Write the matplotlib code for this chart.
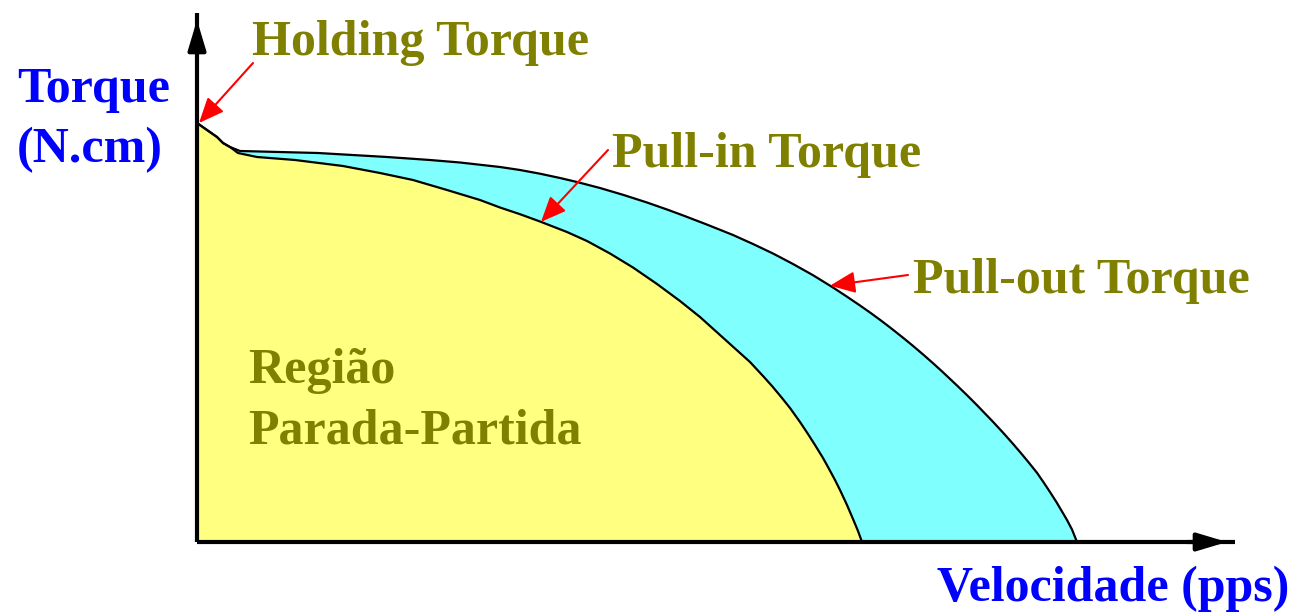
import numpy as np
import matplotlib
matplotlib.use("Agg")
import matplotlib.pyplot as plt

# ---- data (speed in arbitrary pps units, torque in N.cm) ----
pullout_speed = [0.0, 1.0, 2.0, 2.6, 3.3, 4.3, 12.1, 19.0, 23.3, 26.3, 30.3, 32.3, 34.3,
                 36.3, 38.0, 40.3, 42.6, 45.0, 47.0, 48.6, 51.0, 53.6, 55.6, 57.6, 59.6,
                 61.6, 63.6, 65.0, 66.3, 67.3, 68.3, 69.3, 70.6, 71.6, 72.6, 73.6, 74.6,
                 76.0, 77.0, 78.0, 79.6, 80.6, 81.5, 82.3, 83.1, 84.0, 84.6, 85.3, 86.0,
                 87.0, 87.5, 88.0]
pullout_torque = [41.9, 41.2, 40.5, 39.9, 39.5, 39.1, 38.9, 38.5, 38.2, 37.95, 37.5, 37.2, 36.83,
                  36.4, 36.0, 35.4, 34.72, 33.95, 33.25, 32.66, 31.74, 30.7, 29.8, 28.85, 27.8,
                  26.68, 25.45, 24.53, 23.65, 22.95, 22.22, 21.46, 20.43, 19.61, 18.76, 17.88, 16.97,
                  15.65, 14.68, 13.68, 12.02, 10.94, 9.93, 9.0, 8.04, 6.92, 6.05, 5.0, 3.9,
                  2.2, 1.25, 0.0]
pullin_speed = [0.0, 1.0, 2.0, 2.6, 3.3, 4.1, 6.0, 9.8, 14.6, 18.3, 21.6, 25.0, 28.3, 30.3,
                32.3, 34.3, 37.0, 39.0, 41.3, 43.6, 46.0, 48.3, 50.3, 52.3, 54.3, 55.3,
                56.6, 57.5, 58.5, 59.3, 60.3, 61.1, 61.8, 62.6, 63.1, 63.8, 64.3, 65.0,
                65.6, 66.1, 66.5]
pullin_torque = [41.9, 41.2, 40.5, 39.9, 39.5, 38.9, 38.5, 38.2, 37.6, 36.9, 36.2, 35.2, 34.2,
                 33.45, 32.78, 32.05, 31.0, 30.1, 28.85, 27.45, 25.8, 24.1, 22.5, 20.7, 18.9,
                 18.0, 16.6, 15.6, 14.4, 13.4, 12.0, 10.8, 9.7, 8.4, 7.5, 6.2, 5.2, 3.7,
                 2.3, 1.1, 0.0]

labels = {
    "holding": "Holding Torque",
    "pullin": "Pull-in Torque",
    "pullout": "Pull-out Torque",
    "region": ["Região", "Parada-Partida"],
    "ylabel": ["Torque", "(N.cm)"],
    "xlabel": "Velocidade (pps)",
}

OLIVE = "#808000"
BLUE = "#0000FF"
YELLOW = "#FFFF80"
CYAN = "#80FFFF"
FONT = ["Liberation Serif", "DejaVu Serif"]
FS = 36

fig = plt.figure(figsize=(13.05, 6.13), dpi=100)
ax = fig.add_axes([0, 0, 1, 1])
ax.set_xlim(-19.7, 110.8)
ax.set_ylim(-7.1, 54.2)
ax.axis("off")

xo = np.array(pullout_speed); yo = np.array(pullout_torque)
xi = np.array(pullin_speed); yi = np.array(pullin_torque)

ax.fill_between(xo, yo, 0, color=CYAN, lw=0, zorder=1)
ax.fill_between(xi, yi, 0, color=YELLOW, lw=0, zorder=2)
ax.plot(xo, yo, color="black", lw=1.6, zorder=3, solid_joinstyle="round")
ax.plot(xi, yi, color="black", lw=1.6, zorder=3, solid_joinstyle="round")

# axes with arrows
ax.plot([0, 0], [0, 52.9], color="black", lw=3, zorder=4, solid_capstyle="butt")
ax.plot([0, 103.8], [0, 0], color="black", lw=3, zorder=4, solid_capstyle="butt")
head = dict(arrowstyle="-|>,head_length=0.6,head_width=0.18", color="black",
            lw=3, mutation_scale=30, shrinkA=0, shrinkB=0)
ax.annotate("", xy=(0, 52.2), xytext=(0, 49.0), arrowprops=head, zorder=5)
ax.annotate("", xy=(103.0, 0), xytext=(99.0, 0), arrowprops=head, zorder=5)

txt = dict(fontsize=FS, fontweight="bold", family=FONT, ha="left", va="baseline", zorder=6)
ax.text(5.5, 48.7, labels["holding"], color=OLIVE, **txt)
ax.text(41.5, 37.5, labels["pullin"], color=OLIVE, **txt)
ax.text(71.6, 24.9, labels["pullout"], color=OLIVE, **txt)
ax.text(5.1, 15.9, labels["region"][0], color=OLIVE, **txt)
ax.text(5.1, 9.9, labels["region"][1], color=OLIVE, **txt)
ax.text(-18.0, 44.0, labels["ylabel"][0], color=BLUE, **txt)
ax.text(-18.0, 38.0, labels["ylabel"][1], color=BLUE, **txt)
ax.text(74.0, -5.9, labels["xlabel"], color=BLUE, **txt)

# red arrows
arr = dict(arrowstyle="-|>,head_length=0.7,head_width=0.3", color="red", lw=1.5,
           mutation_scale=22, shrinkA=0, shrinkB=0)
ax.annotate("", xy=(0.2, pullout_torque[0]), xytext=(5.6, 47.9), arrowprops=arr, zorder=7)
xp = 34.4
ax.annotate("", xy=(xp, np.interp(xp, xi, yi)), xytext=(41.1, 39.2), arrowprops=arr, zorder=7)
xq = 63.3
ax.annotate("", xy=(xq, np.interp(xq, xo, yo)), xytext=(71.1, 26.7), arrowprops=arr, zorder=7)

fig.savefig("out.png", dpi=100, facecolor="white")
